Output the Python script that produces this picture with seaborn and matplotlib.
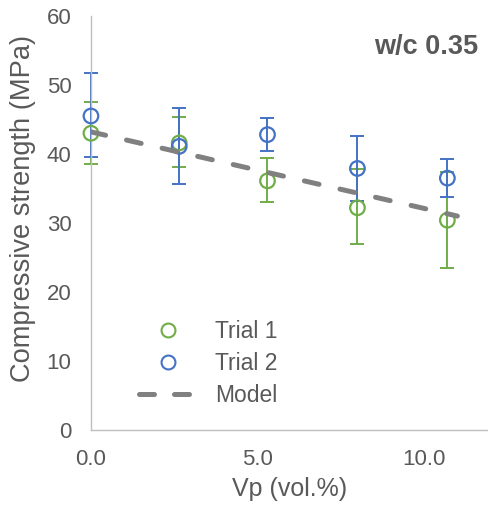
import numpy as np
import matplotlib
matplotlib.use("Agg")
import matplotlib.pyplot as plt
import seaborn as sns
from matplotlib.lines import Line2D

# data
vp = [0.0, 2.65, 5.3, 8.0, 10.7]
trial1 = [43.0, 41.6, 36.1, 32.2, 30.4]
trial1_lo = [38.6, 38.1, 33.0, 26.9, 23.5]
trial1_hi = [47.5, 45.4, 39.4, 37.8, 37.4]
trial2 = [45.5, 41.1, 42.8, 37.9, 36.5]
trial2_lo = [39.6, 35.7, 40.4, 33.2, 33.7]
trial2_hi = [51.7, 46.6, 45.2, 42.6, 39.2]
model_x = [0.0, 11.0]
model_y = [43.2, 31.0]

sns.set_style("white")
plt.rcParams["font.family"] = ["Liberation Sans", "DejaVu Sans"]

green = "#70ad47"
blue = "#4472c4"
grey = "#808080"
txt = "#595959"
dash = [3.0, 4.3]

fig = plt.figure(figsize=(4.89, 5.14), dpi=100)
ax = fig.add_axes([0.186, 0.1634, 0.814, 0.8056])

for y, lo, hi, c in [(trial1, trial1_lo, trial1_hi, green), (trial2, trial2_lo, trial2_hi, blue)]:
    y = np.array(y)
    err = [y - np.array(lo), np.array(hi) - y]
    ax.errorbar(vp, y, yerr=err, fmt="none", ecolor=c, elinewidth=1.4,
                capsize=5, capthick=1.4, clip_on=False, zorder=2)

sns.scatterplot(x=vp, y=trial1, ax=ax, marker="o", s=110, facecolor="none",
                edgecolor=green, linewidth=1.6, clip_on=False, zorder=3)
sns.scatterplot(x=vp, y=trial2, ax=ax, marker="o", s=110, facecolor="none",
                edgecolor=blue, linewidth=1.6, clip_on=False, zorder=3)
sns.lineplot(x=model_x, y=model_y, ax=ax, color=grey, lw=3.6,
             dashes=False, zorder=4)
ln = ax.get_lines()[-1]
ln.set_dashes(dash)
ln.set_dash_capstyle("round")

ax.set_xlim(0, 11.95)
ax.set_ylim(0, 60)
ax.set_xticks([0, 5, 10])
ax.set_xticklabels(["0.0", "5.0", "10.0"])
ax.set_yticks(range(0, 61, 10))
for s in ["top", "right"]:
    ax.spines[s].set_visible(False)
for s in ["left", "bottom"]:
    ax.spines[s].set_color("#bfbfbf")
    ax.spines[s].set_linewidth(1.0)
ax.tick_params(direction="in", length=5, color="#bfbfbf", labelsize=16,
               labelcolor=txt, pad=14)
ax.set_xlabel("Vp (vol.%)", fontsize=18, color=txt, labelpad=5)
ax.set_ylabel("Compressive strength (MPa)", fontsize=19.6, color=txt)
ax.yaxis.set_label_coords(-0.137, 0.536)

ax.text(0.972, 0.925, "w/c 0.35", transform=ax.transAxes, ha="right", va="center",
        fontsize=19.5, fontweight="bold", color=txt)

handles = [
    Line2D([], [], marker="o", ls="none", mfc="none", mec=green, mew=1.5, ms=10),
    Line2D([], [], marker="o", ls="none", mfc="none", mec=blue, mew=1.5, ms=10),
    Line2D([], [], color=grey, lw=3.6, dashes=[3.0, 4.0], dash_capstyle="round"),
]
ax.legend(handles, ["Trial 1", "Trial 2", "Model"], frameon=False, fontsize=16.5,
          labelcolor=txt, loc="upper left", bbox_to_anchor=(0.07, 0.315),
          handlelength=2.5, handletextpad=0.8, labelspacing=0.38)

fig.savefig("out.png", dpi=100)
